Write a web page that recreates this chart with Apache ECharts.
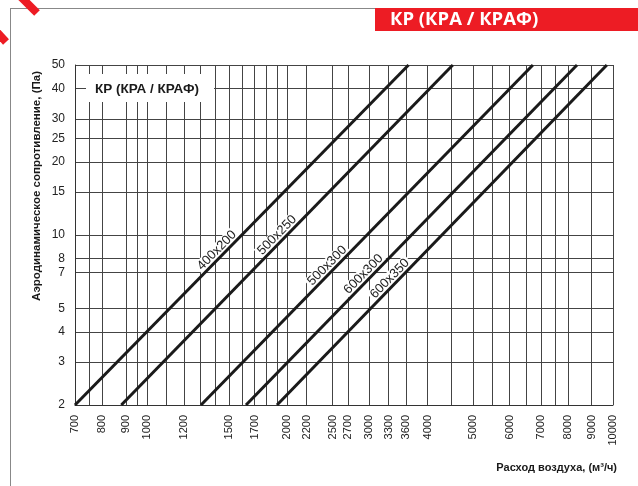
<!DOCTYPE html>
<html lang="ru">
<head>
<meta charset="UTF-8">
<title>КР (КРА / КРАФ)</title>
<script src="https://cdn.jsdelivr.net/npm/echarts@6/dist/echarts.min.js"></script>
<style>
  html, body { margin: 0; padding: 0; background: #fff; }
  #chart { width: 638px; height: 486px; }
</style>
</head>
<body>
<div id="chart"></div>
<script>
  // ось X: расход воздуха, м3/ч
  const flowLabels = [700, 800, 900, 1000, 1200, 1500, 1700, 2000, 2200, 2500, 2700, 3000, 3300, 3600, 4000, 5000, 6000, 7000, 8000, 9000, 10000];
  const flowGrid = [700, 750, 800, 900, 950, 1000, 1100, 1200, 1300, 1400, 1500, 1600, 1700, 1800, 1900, 2000, 2200, 2500, 2700, 3000, 3300, 3600, 4000, 4500, 5000, 5500, 6000, 6500, 7000, 7500, 8000, 9000, 10000];
  // ось Y: сопротивление, Па
  const pressureLabels = [2, 3, 4, 5, 7, 8, 10, 15, 20, 25, 30, 40, 50];

  // типоразмеры и расход на концах прямых (при 2 Па и при 50 Па)
  const sizes = ['400x200', '500x250', '500x300', '600x300', '600x350'];
  const flowAt2Pa = [700, 880, 1305, 1630, 1900];
  const flowAt50Pa = [3640, 4530, 6730, 8370, 9700];
  const pMin = 2, pMax = 50;

  // где вдоль прямой стоит подпись (доля длины)
  const labelT = [0.455, 0.50, 0.41, 0.385, 0.372];

  const lg = Math.log10;
  const fromLg = v => Math.round(Math.pow(10, v));

  const chart = echarts.init(document.getElementById('chart'));

  const series = sizes.map((name, i) => {
    const a = [lg(flowAt2Pa[i]), lg(pMin)];
    const b = [lg(flowAt50Pa[i]), lg(pMax)];
    const t = labelT[i];
    const mid = [a[0] + (b[0] - a[0]) * t, a[1] + (b[1] - a[1]) * t];
    return {
      name: name,
      type: 'line',
      data: [a, b],
      symbol: 'none',
      silent: true,
      lineStyle: { color: '#1a1a1a', width: 3 },
      z: 5,
      markPoint: {
        symbol: 'rect',
        symbolSize: 0,
        silent: true,
        z: 3,
        data: [{ coord: mid, value: name }],
        label: {
          show: true,
          position: 'inside',
          formatter: name,
          rotate: 45.5,
          offset: [-7, -7],
          color: '#222',
          fontFamily: 'Liberation Sans',
          fontSize: 13,
          backgroundColor: '#fff',
          padding: [0, 2]
        }
      }
    };
  });

  const option = {
    animation: false,
    grid: { left: 75, right: 25, top: 65, bottom: 81 },
    xAxis: {
      type: 'value',
      min: lg(700),
      max: lg(10000),
      axisLine: { show: true, lineStyle: { color: '#333', width: 1 } },
      axisTick: { show: false, customValues: flowGrid.map(lg) },
      axisLabel: {
        customValues: flowLabels.map(lg),
        formatter: v => String(fromLg(v)),
        rotate: 90,
        margin: 10,
        color: '#222',
        fontFamily: 'Liberation Sans',
        fontSize: 11
      },
      splitLine: { show: true, lineStyle: { color: '#444', width: 1 } }
    },
    yAxis: {
      type: 'value',
      min: lg(2),
      max: lg(50),
      axisLine: { show: true, lineStyle: { color: '#333', width: 1 } },
      axisTick: { show: false, customValues: pressureLabels.map(lg) },
      axisLabel: {
        customValues: pressureLabels.map(lg),
        formatter: v => String(fromLg(v)),
        margin: 10,
        color: '#222',
        fontFamily: 'Liberation Sans',
        fontSize: 12
      },
      splitLine: { show: true, lineStyle: { color: '#444', width: 1 } }
    },
    graphic: [
      // рамка страницы
      { type: 'line', shape: { x1: 10, y1: 8.5, x2: 375, y2: 8.5 }, style: { stroke: '#888', lineWidth: 1 } },
      { type: 'line', shape: { x1: 10.5, y1: 8, x2: 10.5, y2: 486 }, style: { stroke: '#888', lineWidth: 1 } },
      // красные уголки
      { type: 'line', shape: { x1: 20, y1: -4, x2: 37, y2: 13 }, style: { stroke: '#ed1c24', lineWidth: 8 } },
      { type: 'line', shape: { x1: -5, y1: 30, x2: 6, y2: 42 }, style: { stroke: '#ed1c24', lineWidth: 8 } },
      // плашка заголовка
      { type: 'rect', shape: { x: 375, y: 8, width: 263, height: 23 }, style: { fill: '#ed1c24' } },
      {
        type: 'text', x: 390, y: 20,
        style: { text: 'КР (КРА / КРАФ)', fill: '#fff', font: 'bold 18.5px "Open Sans"', verticalAlign: 'middle' }
      },
      // подпись внутри графика
      { type: 'rect', shape: { x: 86, y: 74, width: 128, height: 28 }, style: { fill: '#fff' }, z: 10 },
      {
        type: 'text', x: 95, y: 89, z: 11,
        style: { text: 'КР (КРА / КРАФ)', fill: '#1a1a1a', font: 'bold 13.5px "Liberation Sans"', verticalAlign: 'middle' }
      },
      // названия осей
      {
        type: 'text', x: 37, y: 186, rotation: Math.PI / 2,
        style: { text: 'Аэродинамическое сопротивление, (Па)', fill: '#1a1a1a', font: 'bold 11.5px "Liberation Sans"', align: 'center', verticalAlign: 'middle' }
      },
      {
        type: 'text', x: 617, y: 468,
        style: { text: 'Расход воздуха, (м³/ч)', fill: '#1a1a1a', font: 'bold 11px "Liberation Sans"', align: 'right', verticalAlign: 'middle' }
      }
    ],
    series: series
  };

  chart.setOption(option);
</script>
</body>
</html>
